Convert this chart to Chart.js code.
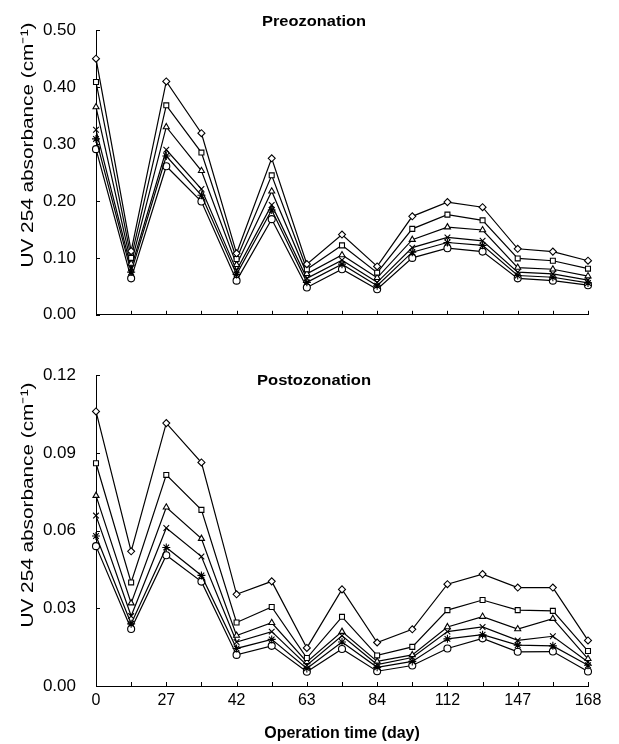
<!DOCTYPE html>
<html>
<head>
<meta charset="utf-8">
<script src="https://cdn.jsdelivr.net/npm/chart.js@4.4.1/dist/chart.umd.min.js"></script>
<style>
  body { margin: 0; background: #fff; width: 619px; height: 744px; overflow: hidden; position: relative; }
  .box { position: absolute; left: 0; width: 619px; }
  #topBox { top: 0; height: 345px; }
  #botBox { top: 345px; height: 399px; }
</style>
</head>
<body>
<div class="box" id="topBox"><canvas id="preChart"></canvas></div>
<div class="box" id="botBox"><canvas id="postChart"></canvas></div>
<script>
// x categories (only every other one is labelled on the axis)
const tickLabels = ['0', '', '27', '', '42', '', '63', '', '84', '', '112', '', '147', '', '168'];

// marker of each series, top line to bottom line
const markers = ['rectRot', 'rect', 'triangle', 'crossRot', 'star', 'circle'];

// Preozonation, UV 254 absorbance (1/cm)
const preDiamond  = [0.450, 0.112, 0.410, 0.319, 0.108, 0.275, 0.089, 0.141, 0.085, 0.173, 0.198, 0.189, 0.116, 0.111, 0.095];
const preSquare   = [0.409, 0.100, 0.368, 0.285, 0.098, 0.245, 0.080, 0.122, 0.074, 0.151, 0.176, 0.166, 0.099, 0.095, 0.081];
const preTriangle = [0.365, 0.090, 0.330, 0.253, 0.088, 0.217, 0.072, 0.105, 0.065, 0.132, 0.154, 0.149, 0.083, 0.080, 0.068];
const preCross    = [0.325, 0.082, 0.290, 0.221, 0.078, 0.193, 0.064, 0.096, 0.057, 0.118, 0.136, 0.130, 0.075, 0.072, 0.061];
const preStar     = [0.309, 0.075, 0.279, 0.210, 0.071, 0.184, 0.057, 0.089, 0.051, 0.110, 0.127, 0.122, 0.069, 0.066, 0.056];
const preCircle   = [0.291, 0.064, 0.261, 0.199, 0.060, 0.168, 0.048, 0.080, 0.045, 0.100, 0.117, 0.111, 0.064, 0.060, 0.052];

// Postozonation
const postDiamond  = [0.1060, 0.0520, 0.1015, 0.0863, 0.0354, 0.0404, 0.0147, 0.0373, 0.0168, 0.0219, 0.0393, 0.0432, 0.0380, 0.0380, 0.0176];
const postSquare   = [0.0860, 0.0400, 0.0815, 0.0680, 0.0245, 0.0305, 0.0108, 0.0267, 0.0118, 0.0151, 0.0293, 0.0332, 0.0293, 0.0290, 0.0135];
const postTriangle = [0.0735, 0.0320, 0.0690, 0.0569, 0.0195, 0.0244, 0.0093, 0.0210, 0.0095, 0.0120, 0.0228, 0.0268, 0.0220, 0.0260, 0.0105];
const postCross    = [0.0658, 0.0270, 0.0610, 0.0500, 0.0170, 0.0210, 0.0080, 0.0194, 0.0083, 0.0110, 0.0210, 0.0228, 0.0176, 0.0192, 0.0093];
const postStar     = [0.0579, 0.0240, 0.0535, 0.0427, 0.0145, 0.0180, 0.0068, 0.0170, 0.0072, 0.0095, 0.0182, 0.0198, 0.0158, 0.0155, 0.0080];
const postCircle   = [0.0540, 0.0220, 0.0505, 0.0403, 0.0120, 0.0155, 0.0055, 0.0143, 0.0057, 0.0079, 0.0145, 0.0184, 0.0132, 0.0133, 0.0056];

const FONT = '"Liberation Sans", Arial, Helvetica, sans-serif';
Chart.defaults.font.family = FONT;
Chart.defaults.font.size = 16;
Chart.defaults.color = '#000';

// draws a text stretched to a given width
function fitText(ctx, text, cx, cy, w, font, rot) {
    ctx.save();
    ctx.font = font;
    ctx.fillStyle = '#000';
    ctx.textAlign = 'center';
    ctx.textBaseline = 'middle';
    ctx.translate(cx, cy);
    if (rot) ctx.rotate(rot);
    const k = w / ctx.measureText(text).width;
    ctx.scale(k, 1);
    ctx.fillText(text, 0, 0);
    ctx.restore();
}

// inward tick marks + panel title + y title
const panelDeco = {
    id: 'panelDeco',
    afterDraw(chart, args, opts) {
        const { ctx, chartArea, scales: { x, y } } = chart;
        ctx.save();
        ctx.strokeStyle = '#000';
        ctx.lineWidth = 1;
        ctx.beginPath();
        y.ticks.forEach((t, i) => {
            const py = Math.round(y.getPixelForTick(i)) + 0.5;
            ctx.moveTo(chartArea.left, py);
            ctx.lineTo(chartArea.left + 4, py);
        });
        x.ticks.forEach((t, i) => {
            const px = Math.round(x.getPixelForTick(i)) + 0.5;
            ctx.moveTo(px, chartArea.bottom);
            ctx.lineTo(px, chartArea.bottom - 4);
        });
        ctx.stroke();
        ctx.restore();

        fitText(ctx, opts.title, 314, opts.titleY, opts.titleW, 'bold 14px ' + FONT);
        fitText(ctx, 'UV 254 absorbance (cm\u207B\u00B9)', 28, opts.yTitleY, 245, '17px ' + FONT, -Math.PI / 2);
    }
};

function makeDatasets(series) {
    return series.map((data, i) => ({
        label: markers[i],
        data: data,
        borderColor: '#000',
        borderWidth: 1.2,
        backgroundColor: '#fff',
        pointStyle: markers[i],
        pointRadius: (markers[i] === 'crossRot' || markers[i] === 'star') ? 4 : 3.5,
        pointBorderColor: '#000',
        pointBackgroundColor: '#fff',
        pointBorderWidth: 1.1,
        tension: 0,
        clip: false
    }));
}

function makeChart(id, series, cfg) {
    return new Chart(document.getElementById(id), {
        type: 'line',
        data: { labels: tickLabels, datasets: makeDatasets(series) },
        plugins: [panelDeco],
        options: {
            responsive: true,
            maintainAspectRatio: false,
            animation: false,
            devicePixelRatio: 1,
            layout: { padding: { top: cfg.padTop, right: 31, left: 0, bottom: 0 } },
            plugins: {
                legend: { display: false },
                tooltip: { enabled: false },
                panelDeco: { title: cfg.title, titleY: cfg.titleY, titleW: cfg.titleW, yTitleY: cfg.yTitleY }
            },
            scales: {
                x: {
                    type: 'category',
                    offset: false,
                    grid: { display: true, drawOnChartArea: false, drawTicks: false },
                    border: { display: true, color: '#000', width: 1 },
                    ticks: { display: cfg.showX, autoSkip: false, maxRotation: 0, padding: 5, font: { size: 16 } },
                    title: {
                        display: cfg.showX,
                        text: 'Operation time (day)',
                        font: { size: 16, weight: 'bold' },
                        padding: { top: 0, bottom: 1 }
                    },
                    afterFit: s => { s.height = cfg.xHeight; }
                },
                y: {
                    min: 0,
                    max: cfg.yMax,
                    grid: { display: true, drawOnChartArea: false, drawTicks: false },
                    border: { display: true, color: '#000', width: 1 },
                    ticks: {
                        stepSize: cfg.step,
                        padding: 20,
                        font: { size: 17 },
                        callback: v => Number(v).toFixed(2)
                    },
                    afterFit: s => { s.width = 96; }
                }
            }
        }
    });
}

makeChart('preChart',
    [preDiamond, preSquare, preTriangle, preCross, preStar, preCircle],
    { padTop: 14.5, xHeight: 22.3, yMax: 0.5, step: 0.1, showX: false,
      title: 'Preozonation', titleY: 22.5, titleW: 104, yTitleY: 145 });

makeChart('postChart',
    [postDiamond, postSquare, postTriangle, postCross, postStar, postCircle],
    { padTop: 29.3, xHeight: 58, yMax: 0.12, step: 0.03, showX: true,
      title: 'Postozonation', titleY: 36.5, titleW: 114, yTitleY: 160 });
</script>
</body>
</html>
